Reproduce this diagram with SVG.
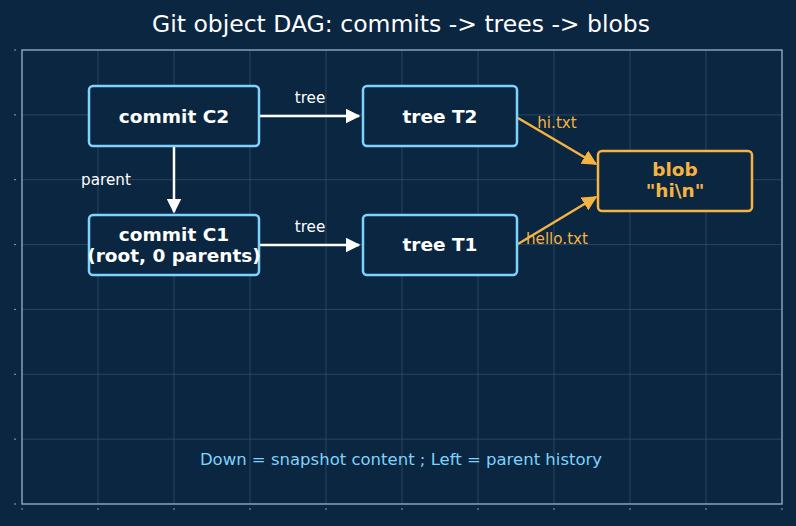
<svg xmlns="http://www.w3.org/2000/svg" width="796" height="526" viewBox="0 0 796 526">
<defs>
<style>
.grid{stroke:#3b5772;stroke-width:0.8;opacity:0.8}
.tick{stroke:#8aa0b8;stroke-width:1}
.box{fill:#0b2640;stroke:#7dd3fc;stroke-width:2.5}
.blob{fill:#0b2640;stroke:#f5b342;stroke-width:2.5}
.nt{font-family:"DejaVu Sans",sans-serif;font-weight:bold;font-size:18.5px;fill:#ffffff;text-anchor:middle}
.bt{font-family:"DejaVu Sans",sans-serif;font-weight:bold;font-size:18.5px;fill:#f5b342;text-anchor:middle}
.lbl{font-family:"DejaVu Sans",sans-serif;font-size:15.2px;fill:#ffffff;text-anchor:middle}
.olbl{font-family:"DejaVu Sans",sans-serif;font-size:15.2px;fill:#f5b342;text-anchor:middle}
.w{stroke:#ffffff;stroke-width:2.5;fill:none}
.o{stroke:#f5b342;stroke-width:2.5;fill:none}
</style>
<marker id="aw" viewBox="0 0 10 10" refX="9" refY="5" markerWidth="6" markerHeight="6" orient="auto" markerUnits="strokeWidth"><path d="M0,0 L10,5 L0,10 z" fill="#ffffff"/></marker>
<marker id="ao" viewBox="0 0 10 10" refX="9" refY="5" markerWidth="6" markerHeight="6" orient="auto" markerUnits="strokeWidth"><path d="M0,0 L10,5 L0,10 z" fill="#f5b342"/></marker>
</defs>
<rect width="796" height="526" fill="#0b2640"/>
<text x="401" y="32" font-family="DejaVu Sans,sans-serif" font-size="23.5" fill="#ffffff" text-anchor="middle">Git object DAG: commits -&gt; trees -&gt; blobs</text>
<g id="grid">
<path class="grid" d="M98,50V504M174,50V504M250,50V504M326,50V504M402,50V504M478,50V504M554,50V504M630,50V504M706,50V504"/>
<path class="grid" d="M22,114.9H782M22,179.7H782M22,244.6H782M22,309.4H782M22,374.3H782M22,439.1H782"/>
<rect x="22" y="50" width="760" height="454" fill="none" stroke="#8aa0b8" stroke-width="1.5"/>
<path class="tick" d="M22,508v2M98,508v2M174,508v2M250,508v2M326,508v2M402,508v2M478,508v2M554,508v2M630,508v2M706,508v2M782,508v2"/>
<path class="tick" d="M14,50h2M14,114.9h2M14,179.7h2M14,244.6h2M14,309.4h2M14,374.3h2M14,439.1h2M14,504h2"/>
</g>
<g id="connectors">
<path class="w" d="M259,116H359" marker-end="url(#aw)"/>
<path class="w" d="M174,146V212" marker-end="url(#aw)"/>
<path class="w" d="M259,245H359" marker-end="url(#aw)"/>
<path class="o" d="M518,118L596,164" marker-end="url(#ao)"/>
<path class="o" d="M518,244L596,197" marker-end="url(#ao)"/>
<text class="lbl" x="310" y="103">tree</text>
<text class="lbl" x="310" y="232">tree</text>
<text class="lbl" x="106" y="185">parent</text>
<text class="olbl" x="557" y="128">hi.txt</text>
<text class="olbl" x="557" y="244">hello.txt</text>
</g>
<g id="c2"><rect class="box" x="89" y="86" width="170" height="60" rx="4"/><text class="nt" x="174" y="122.5">commit C2</text></g>
<g id="c1"><rect class="box" x="89" y="215" width="170" height="60" rx="4"/><text class="nt" x="174" y="240.5">commit C1</text><text class="nt" x="174" y="261.5">(root, 0 parents)</text></g>
<g id="t2"><rect class="box" x="363" y="86" width="154" height="60" rx="4"/><text class="nt" x="440" y="122.5">tree T2</text></g>
<g id="t1"><rect class="box" x="363" y="215" width="154" height="60" rx="4"/><text class="nt" x="440" y="251">tree T1</text></g>
<g id="blob"><rect class="blob" x="598" y="151" width="154" height="60" rx="4"/><text class="bt" x="675" y="176">blob</text><text class="bt" x="675" y="197">"hi\n"</text></g>
<text x="401" y="465" font-family="DejaVu Sans,sans-serif" font-size="16.5" fill="#7dd3fc" text-anchor="middle">Down = snapshot content ; Left = parent history</text>
</svg>
